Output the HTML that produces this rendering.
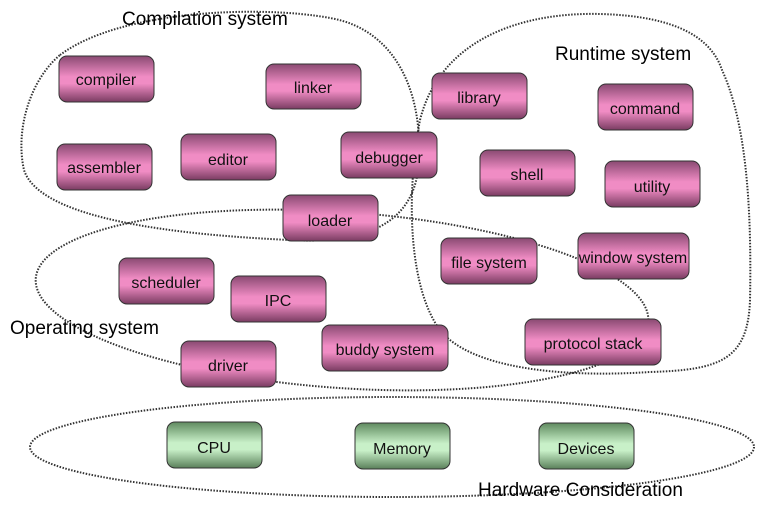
<!DOCTYPE html>
<html><head><style>
body{margin:0;background:#fff;}
svg{display:block;}
text{font-family:"Liberation Sans",sans-serif;}
</style></head><body>
<svg width="757" height="515" viewBox="0 0 757 515" xmlns="http://www.w3.org/2000/svg">
<defs>
<linearGradient id="p" x1="0" y1="0" x2="0" y2="1">
<stop offset="0" stop-color="#8a4a72"/><stop offset="0.45" stop-color="#f08cc4"/><stop offset="0.6" stop-color="#f08cc4"/><stop offset="1" stop-color="#7a3c62"/>
</linearGradient>
<linearGradient id="g" x1="0" y1="0" x2="0" y2="1">
<stop offset="0" stop-color="#5f8a5f"/><stop offset="0.45" stop-color="#c8f0c8"/><stop offset="0.6" stop-color="#c8f0c8"/><stop offset="1" stop-color="#5a805a"/>
</linearGradient>
</defs>
<g fill="none" stroke="#333" stroke-width="2" stroke-dasharray="1.5 1.5">
<path d="M 60,55 C 120,10 260,5 330,18 C 400,30 425,100 418,170 C 412,220 370,245 290,240 C 180,235 40,220 24,170 C 15,130 30,80 60,55 Z"/>
<path d="M 420,120 C 440,40 520,12 600,14 C 680,16 712,40 722,70 C 745,120 752,200 750,300 C 748,360 720,370 650,372 C 560,378 470,368 440,330 C 410,290 405,200 420,120 Z"/>
<ellipse cx="342" cy="300" rx="307" ry="88" transform="rotate(4 342 300)"/>
<ellipse cx="392" cy="447" rx="362" ry="50"/>
</g>
<g stroke="#333" stroke-width="1" font-size="16" text-anchor="middle">
<g fill="url(#p)">
<rect x="59" y="56" width="95" height="46" rx="8"/>
<rect x="266" y="64" width="95" height="45" rx="8"/>
<rect x="432" y="73" width="95" height="46" rx="8"/>
<rect x="598" y="84" width="95" height="46" rx="8"/>
<rect x="57" y="144" width="95" height="46" rx="8"/>
<rect x="181" y="134" width="95" height="46" rx="8"/>
<rect x="341" y="132" width="96" height="46" rx="8"/>
<rect x="480" y="150" width="95" height="46" rx="8"/>
<rect x="605" y="161" width="95" height="46" rx="8"/>
<rect x="283" y="195" width="95" height="46" rx="8"/>
<rect x="441" y="238" width="96" height="46" rx="8"/>
<rect x="578" y="233" width="111" height="46" rx="8"/>
<rect x="119" y="258" width="95" height="46" rx="8"/>
<rect x="231" y="276" width="95" height="46" rx="8"/>
<rect x="322" y="325" width="126" height="46" rx="8"/>
<rect x="525" y="319" width="136" height="46" rx="8"/>
<rect x="181" y="341" width="95" height="46" rx="8"/>
</g>
<g fill="url(#g)">
<rect x="167" y="422" width="95" height="46" rx="8"/>
<rect x="355" y="423" width="95" height="46" rx="8"/>
<rect x="539" y="423" width="95" height="46" rx="8"/>
</g>
</g>
<g font-size="16" text-anchor="middle" fill="#111">
<text x="106" y="85">compiler</text>
<text x="313" y="93">linker</text>
<text x="479" y="103">library</text>
<text x="645" y="114">command</text>
<text x="104" y="173">assembler</text>
<text x="228" y="165">editor</text>
<text x="389" y="163">debugger</text>
<text x="527" y="180">shell</text>
<text x="652" y="192">utility</text>
<text x="330" y="226">loader</text>
<text x="489" y="268">file system</text>
<text x="633" y="263">window system</text>
<text x="166" y="288">scheduler</text>
<text x="278" y="306">IPC</text>
<text x="385" y="355">buddy system</text>
<text x="593" y="349">protocol stack</text>
<text x="228" y="371">driver</text>
<text x="214" y="453">CPU</text>
<text x="402" y="454">Memory</text>
<text x="586" y="454">Devices</text>
</g>
<g font-size="19" fill="#000">
<text x="122" y="25">Compilation system</text>
<text x="555" y="60">Runtime system</text>
<text x="10" y="334">Operating system</text>
<text x="478" y="496">Hardware Consideration</text>
</g>
</svg>
</body></html>
